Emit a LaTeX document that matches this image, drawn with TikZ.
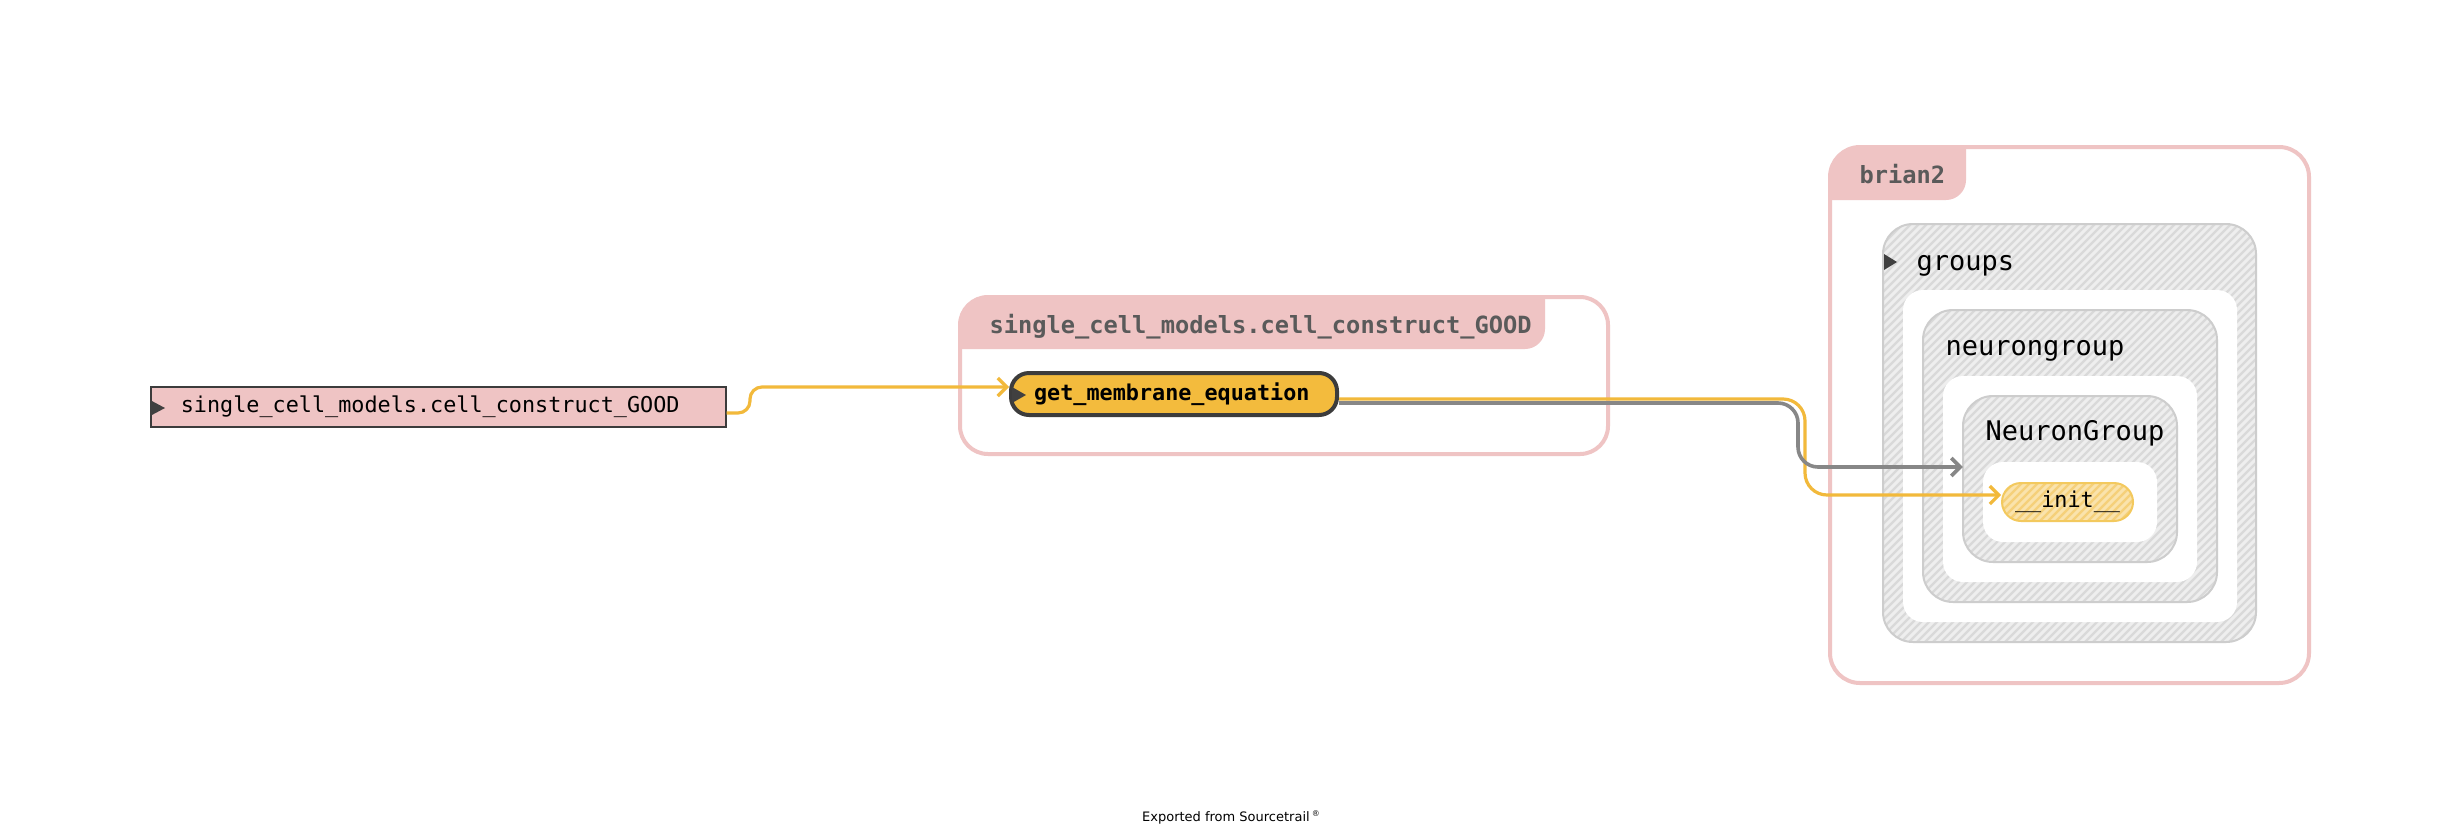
\documentclass[tikz,border=0pt]{standalone}
\usepackage{fontspec}
\setmonofont{DejaVu Sans Mono}
\setsansfont{DejaVu Sans}
\usetikzlibrary{arrows.meta,calc}
\definecolor{pinkc}{HTML}{EFC4C4}
\definecolor{tabtext}{HTML}{5A5A5A}
\definecolor{hatchbg}{HTML}{D9D9D9}
\definecolor{hatchln}{HTML}{EEEEEE}
\definecolor{hatchbd}{HTML}{CDCDCD}
\definecolor{fnyel}{HTML}{F3BB3D}
\definecolor{fnbd}{HTML}{3C3C3C}
\definecolor{inbg}{HTML}{F5D07A}
\definecolor{inln}{HTML}{FAE3AC}
\definecolor{inbd}{HTML}{F3C95E}
\definecolor{edgey}{HTML}{F2B93B}
\definecolor{edgeg}{HTML}{878787}
\definecolor{tri}{HTML}{404040}
\newcommand\myhatch[7]{%
\begin{scope}
\clip[rounded corners=#5] (#1,#2) rectangle (#3,#4);
\fill[#6] (#1,#2) rectangle (#3,#4);
\pgfmathsetmacro\hh{#4-#2}
\pgfmathsetmacro\hs{#1-\hh}
\pgfmathsetmacro\hn{#1-\hh+8}
\foreach \i in {\hs,\hn,...,#3} \draw[#7, line width=3] (\i,#4) -- ++(\hh,-\hh);
\end{scope}}
\begin{document}
\begin{tikzpicture}[x=1pt,y=-1pt,
  monoreg/.style={font=\ttfamily\fontsize{21.8}{26}\selectfont},
  monobig/.style={font=\ttfamily\fontsize{27}{32}\selectfont, text=black},
  hdr/.style={font=\ttfamily\bfseries\fontsize{23.7}{28}\selectfont, text=tabtext},
  lbbox/.style={monoreg, draw=fnbd, line width=1.6, fill=pinkc, minimum height=40,
    text width=515, inner xsep=30, inner ysep=0, align=left},
  fnbox/.style={font=\ttfamily\bfseries\fontsize{21.8}{26}\selectfont, draw=fnbd, line width=4,
    fill=fnyel, rounded corners=18, minimum height=42, text width=280, inner xsep=23,
    inner ysep=0, align=left},
  initbox/.style={monoreg, draw=inbd, line width=2, rounded corners=19,
    minimum width=131, minimum height=38, inner sep=0},
  contborder/.style={pinkc, line width=4},
  hatchborder/.style={hatchbd, line width=2},
  edgeyel/.style={edgey, line width=3.2, -{Straight Barb[length=9pt,width=18pt]}},
  edgegray/.style={edgeg, line width=3.6, -{Straight Barb[length=9pt,width=18pt]}}
]
\useasboundingbox (0,0) rectangle (2462,836);
\fill[white] (0,0) rectangle (2462,836);

% left node
\node[lbbox, anchor=west] (lb) at (150,407) {single\_cell\_models.cell\_construct\_GOOD};
\fill[tri] (150,400) -- (165,408) -- (150,416) -- cycle;

% middle container
\begin{scope}
\clip[rounded corners=28] (960,297) rectangle (1608,454);
\fill[pinkc, rounded corners=20] (900,250) rectangle (1545,349);
\end{scope}
\draw[contborder, rounded corners=28] (960,297) rectangle (1608,454);
\node[hdr, anchor=base west] (c1lbl) at (986,333) {single\_cell\_models.cell\_construct\_GOOD};

\node[fnbox] (gm) at (1174,394) {get\_membrane\_equation};
\fill[tri] (1012,387) -- (1026,395) -- (1012,403) -- cycle;

% brian2 container
\begin{scope}
\clip[rounded corners=30] (1830,147) rectangle (2309,683);
\fill[pinkc, rounded corners=20] (1780,100) rectangle (1966,200);
\end{scope}
\draw[contborder, rounded corners=30] (1830,147) rectangle (2309,683);
\node[hdr, anchor=base west] (c2lbl) at (1856,183) {brian2};

% groups
\myhatch{1883}{224}{2256}{642}{30}{hatchbg}{hatchln}
\draw[hatchborder, rounded corners=30] (1883,224) rectangle (2256,642);
\fill[white, rounded corners=20] (1903,290) rectangle (2237,622);
\fill[tri] (1884,254) -- (1897,262) -- (1884,270) -- cycle;
\node[monobig, anchor=base west] (glbl) at (1913,270) {groups};

% neurongroup
\myhatch{1923}{310}{2217}{602}{30}{hatchbg}{hatchln}
\draw[hatchborder, rounded corners=30] (1923,310) rectangle (2217,602);
\fill[white, rounded corners=20] (1943,376) rectangle (2197,582);
\node[monobig, anchor=base west] (nglbl) at (1942,355) {neurongroup};

% NeuronGroup
\node[minimum width=214, minimum height=166, inner sep=0] (ng) at (2070,479) {};
\myhatch{1963}{396}{2177}{562}{30}{hatchbg}{hatchln}
\draw[hatchborder, rounded corners=30] (1963,396) rectangle (2177,562);
\fill[white, rounded corners=20] (1983,462) rectangle (2157,542);
\node[monobig, anchor=base west] (NGlbl) at (1982,440) {NeuronGroup};

% __init__
\myhatch{2002}{483}{2133}{521}{19}{inbg}{inln}
\node[initbox] (init) at (2067.5,502) {\_\_init\_\_};

% edges
\draw[edgeyel, rounded corners=12] ($(lb.east)+(0,6)$) -- (750,413) -- (750,387) -- ($(gm.west)+(0,-7)$);
\draw[edgeyel, rounded corners=22] ($(gm.east)+(0,5)$) -- (1805,399) -- (1805,495) -- ($(init.west)+(0,-7)$);
\draw[edgegray, rounded corners=20] ($(gm.east)+(0,9)$) -- (1798,403) -- (1798,467) -- ($(ng.west)+(0,-12)$);

\node[font=\sffamily\fontsize{13}{15}\selectfont] (exp) at (1231,817) {Exported from Sourcetrail\,\raisebox{5pt}{\fontsize{8}{9}\selectfont ®}};
\end{tikzpicture}
\end{document}
